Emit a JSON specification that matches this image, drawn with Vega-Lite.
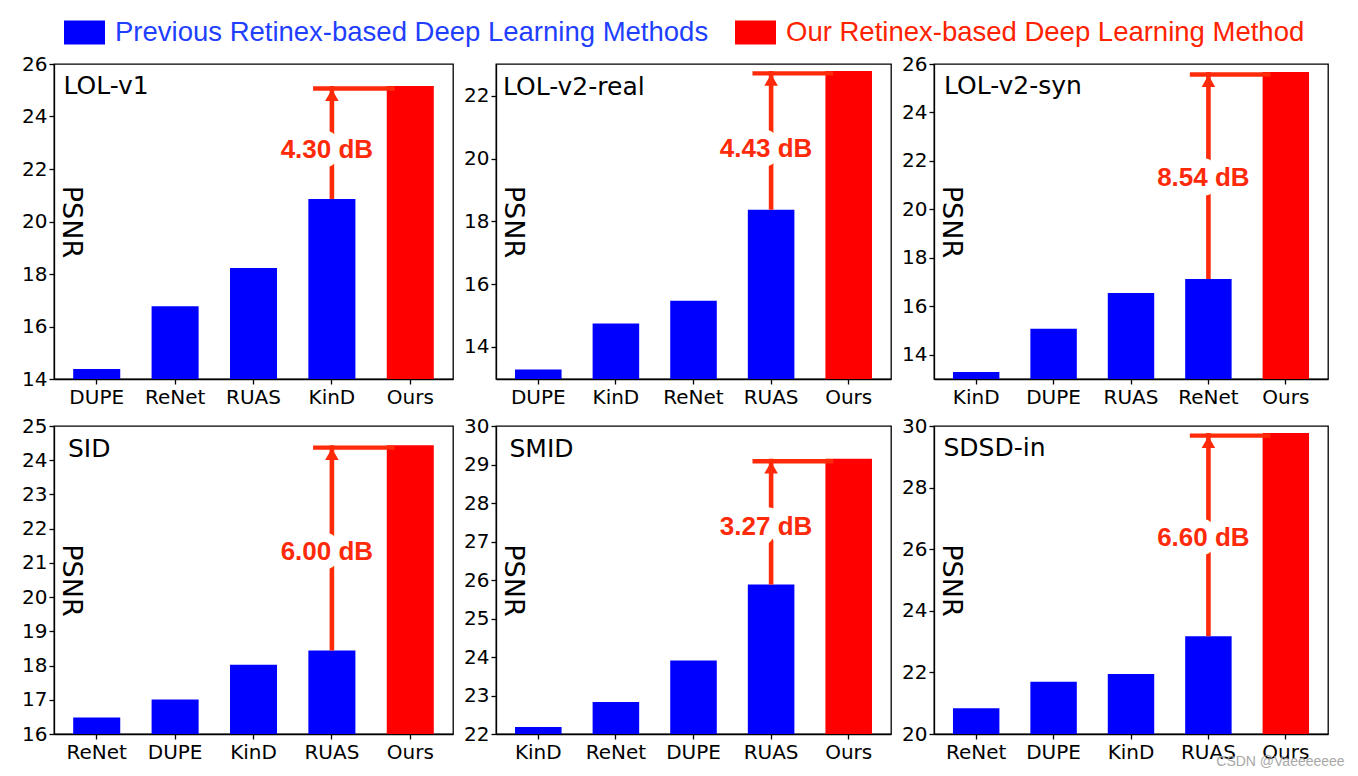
{
  "$schema": "https://vega.github.io/schema/vega-lite/v6.json",
  "background": "white",
  "padding": {"left": 20, "top": 12, "right": 5, "bottom": 5},
  "columns": 3,
  "spacing": {"column": 43, "row": 47},
  "bounds": "flush",
  "title": {"text": "CSDN @Vaeeeeeee", "orient": "bottom", "anchor": "end", "frame": "bounds", "font": "Liberation Sans", "fontSize": 14, "fontWeight": "normal", "color": "#a8a8a8", "offset": -8, "dx": 16, "baseline": "top", "dy": 0},
  "config": {
    "view": {"stroke": "black", "strokeWidth": 1.3},
    "axis": {"labelFont": "DejaVu Sans", "labelFontSize": 20, "labelColor": "black", "tickColor": "black", "tickSize": 5, "tickWidth": 1.3, "domainColor": "black", "domainWidth": 1.3, "grid": false, "titleFont": "DejaVu Sans", "titleFontSize": 27, "titleFontWeight": "normal", "titleColor": "black", "labelPadding": 2, "labelOverlap": false},
    "axisX": {"labelAngle": 0, "labelPadding": 3, "title": null},
    "axisY": {"titleAngle": 90, "titleX": 8, "titleAlign": "center", "titleBaseline": "alphabetic", "labelOverlap": false},
    "title": {"anchor": "start", "frame": "group", "orient": "top", "offset": 0, "baseline": "alphabetic", "font": "DejaVu Sans", "fontSize": 25, "fontWeight": "normal", "color": "black"}
  },
  "concat": [
    {
      "width": 399, "height": 315,
      "title": {"text": "LOL-v1", "dx": 9.5, "dy": 49},
      "data": {"values": [
        {"method": "DUPE", "psnr": 14.38, "group": "prev"},
        {"method": "ReNet", "psnr": 16.77, "group": "prev"},
        {"method": "RUAS", "psnr": 18.23, "group": "prev"},
        {"method": "KinD", "psnr": 20.86, "group": "prev"},
        {"method": "Ours", "psnr": 25.16, "group": "ours"}
      ]},
      "layer": [
        {"mark": {"type": "bar", "clip": true},
         "encoding": {
           "x": {"field": "method", "type": "nominal", "sort": null, "scale": {"domain": ["DUPE", "ReNet", "RUAS", "KinD", "Ours"], "paddingInner": 0.4, "paddingOuter": 0.245}},
           "y": {"field": "psnr", "type": "quantitative", "scale": {"domain": [14, 26], "nice": false, "zero": false}, "axis": {"values": [14, 16, 18, 20, 22, 24, 26], "labelOverlap": false, "title": "PSNR", "titleY": 157.5}},
           "color": {"field": "group", "type": "nominal", "scale": {"domain": ["prev", "ours"], "range": ["#0000ff", "#ff0000"]},
             "legend": {"orient": "none", "legendX": 10, "legendY": -52, "direction": "horizontal", "title": null,
               "symbolType": "M-1,-0.585H1V0.585H-1Z", "symbolSize": 1681, "symbolStrokeWidth": 0,
               "labelFont": "Liberation Sans", "labelFontSize": 27.5, "labelOffset": 10, "labelLimit": 1000,
               "columnPadding": 26, "padding": 0,
               "labelColor": {"expr": "datum.value == 'prev' ? '#1f3fff' : '#ff2200'"},
               "labelExpr": "datum.value == 'prev' ? 'Previous Retinex-based Deep Learning Methods' : 'Our Retinex-based Deep Learning Method'"}}
         }},
        {"data": {"values": [{"from": "KinD", "to": "Ours", "base": 20.86, "top": 25.16, "labelY": 22.80, "label": "4.30 dB"}]},
         "layer": [
           {"mark": {"type": "rule", "color": "#ff2a0a", "strokeWidth": 4.4, "yOffset": 2.5},
            "encoding": {"x": {"field": "from", "type": "nominal", "bandPosition": 0.1}, "x2": {"field": "to", "bandPosition": 0.17}, "y": {"field": "top", "type": "quantitative"}}},
           {"mark": {"type": "rule", "color": "#ff2a0a", "strokeWidth": 4.6},
            "encoding": {"x": {"field": "from", "type": "nominal"}, "y": {"field": "base", "type": "quantitative"}, "y2": {"field": "top"}}},
           {"mark": {"type": "point", "shape": "triangle-up", "filled": true, "size": 185, "color": "#ff2a0a", "opacity": 1, "yOffset": 9},
            "encoding": {"x": {"field": "from", "type": "nominal"}, "y": {"field": "top", "type": "quantitative"}}},
           {"mark": {"type": "text", "font": "Liberation Sans", "fontWeight": "bold", "fontSize": 26, "fill": "white", "stroke": "white", "strokeWidth": 19, "strokeJoin": "round", "baseline": "middle", "dx": -5, "dy": 1.5},
            "encoding": {"x": {"field": "from", "type": "nominal"}, "y": {"field": "labelY", "type": "quantitative"}, "text": {"field": "label"}}},
           {"mark": {"type": "text", "font": "Liberation Sans", "fontWeight": "bold", "fontSize": 26, "fill": "#ff2a0a", "baseline": "middle", "dx": -5, "dy": 1.5},
            "encoding": {"x": {"field": "from", "type": "nominal"}, "y": {"field": "labelY", "type": "quantitative"}, "text": {"field": "label"}}}
         ]}
      ]
    },
    {
      "width": 395, "height": 315,
      "title": {"text": "LOL-v2-real", "dx": 7, "dy": 40},
      "data": {"values": [
        {"method": "DUPE", "psnr": 13.27, "group": "prev"},
        {"method": "KinD", "psnr": 14.74, "group": "prev"},
        {"method": "ReNet", "psnr": 15.47, "group": "prev"},
        {"method": "RUAS", "psnr": 18.37, "group": "prev"},
        {"method": "Ours", "psnr": 22.80, "group": "ours"}
      ]},
      "layer": [
        {"mark": {"type": "bar", "clip": true},
         "encoding": {
           "x": {"field": "method", "type": "nominal", "sort": null, "scale": {"domain": ["DUPE", "KinD", "ReNet", "RUAS", "Ours"], "paddingInner": 0.4, "paddingOuter": 0.245}},
           "y": {"field": "psnr", "type": "quantitative", "scale": {"domain": [12.97, 23.02], "nice": false, "zero": false}, "axis": {"values": [14, 16, 18, 20, 22], "labelOverlap": false, "title": "PSNR", "titleY": 157.5}},
           "color": {"field": "group", "type": "nominal", "scale": {"domain": ["prev", "ours"], "range": ["#0000ff", "#ff0000"]}, "legend": null}
         }},
        {"data": {"values": [{"from": "RUAS", "to": "Ours", "base": 18.37, "top": 22.80, "labelY": 20.36, "label": "4.43 dB"}]},
         "layer": [
           {"mark": {"type": "rule", "color": "#ff2a0a", "strokeWidth": 4.4, "yOffset": 2.5},
            "encoding": {"x": {"field": "from", "type": "nominal", "bandPosition": 0.1}, "x2": {"field": "to", "bandPosition": 0.17}, "y": {"field": "top", "type": "quantitative"}}},
           {"mark": {"type": "rule", "color": "#ff2a0a", "strokeWidth": 4.6},
            "encoding": {"x": {"field": "from", "type": "nominal"}, "y": {"field": "base", "type": "quantitative"}, "y2": {"field": "top"}}},
           {"mark": {"type": "point", "shape": "triangle-up", "filled": true, "size": 185, "color": "#ff2a0a", "opacity": 1, "yOffset": 9},
            "encoding": {"x": {"field": "from", "type": "nominal"}, "y": {"field": "top", "type": "quantitative"}}},
           {"mark": {"type": "text", "font": "Liberation Sans", "fontWeight": "bold", "fontSize": 26, "fill": "white", "stroke": "white", "strokeWidth": 19, "strokeJoin": "round", "baseline": "middle", "dx": -5, "dy": 1.5},
            "encoding": {"x": {"field": "from", "type": "nominal"}, "y": {"field": "labelY", "type": "quantitative"}, "text": {"field": "label"}}},
           {"mark": {"type": "text", "font": "Liberation Sans", "fontWeight": "bold", "fontSize": 26, "fill": "#ff2a0a", "baseline": "middle", "dx": -5, "dy": 1.5},
            "encoding": {"x": {"field": "from", "type": "nominal"}, "y": {"field": "labelY", "type": "quantitative"}, "text": {"field": "label"}}}
         ]}
      ]
    },
    {
      "width": 394, "height": 315,
      "title": {"text": "LOL-v2-syn", "dx": 10, "dy": 49},
      "data": {"values": [
        {"method": "KinD", "psnr": 13.29, "group": "prev"},
        {"method": "DUPE", "psnr": 15.07, "group": "prev"},
        {"method": "RUAS", "psnr": 16.55, "group": "prev"},
        {"method": "ReNet", "psnr": 17.13, "group": "prev"},
        {"method": "Ours", "psnr": 25.67, "group": "ours"}
      ]},
      "layer": [
        {"mark": {"type": "bar", "clip": true},
         "encoding": {
           "x": {"field": "method", "type": "nominal", "sort": null, "scale": {"domain": ["KinD", "DUPE", "RUAS", "ReNet", "Ours"], "paddingInner": 0.4, "paddingOuter": 0.245}},
           "y": {"field": "psnr", "type": "quantitative", "scale": {"domain": [13, 26], "nice": false, "zero": false}, "axis": {"values": [14, 16, 18, 20, 22, 24, 26], "labelOverlap": false, "title": "PSNR", "titleY": 157.5}},
           "color": {"field": "group", "type": "nominal", "scale": {"domain": ["prev", "ours"], "range": ["#0000ff", "#ff0000"]}, "legend": null}
         }},
        {"data": {"values": [{"from": "ReNet", "to": "Ours", "base": 17.13, "top": 25.67, "labelY": 21.34, "label": "8.54 dB"}]},
         "layer": [
           {"mark": {"type": "rule", "color": "#ff2a0a", "strokeWidth": 4.4, "yOffset": 2.5},
            "encoding": {"x": {"field": "from", "type": "nominal", "bandPosition": 0.1}, "x2": {"field": "to", "bandPosition": 0.17}, "y": {"field": "top", "type": "quantitative"}}},
           {"mark": {"type": "rule", "color": "#ff2a0a", "strokeWidth": 4.6},
            "encoding": {"x": {"field": "from", "type": "nominal"}, "y": {"field": "base", "type": "quantitative"}, "y2": {"field": "top"}}},
           {"mark": {"type": "point", "shape": "triangle-up", "filled": true, "size": 185, "color": "#ff2a0a", "opacity": 1, "yOffset": 9},
            "encoding": {"x": {"field": "from", "type": "nominal"}, "y": {"field": "top", "type": "quantitative"}}},
           {"mark": {"type": "text", "font": "Liberation Sans", "fontWeight": "bold", "fontSize": 26, "fill": "white", "stroke": "white", "strokeWidth": 19, "strokeJoin": "round", "baseline": "middle", "dx": -5, "dy": 1.5},
            "encoding": {"x": {"field": "from", "type": "nominal"}, "y": {"field": "labelY", "type": "quantitative"}, "text": {"field": "label"}}},
           {"mark": {"type": "text", "font": "Liberation Sans", "fontWeight": "bold", "fontSize": 26, "fill": "#ff2a0a", "baseline": "middle", "dx": -5, "dy": 1.5},
            "encoding": {"x": {"field": "from", "type": "nominal"}, "y": {"field": "labelY", "type": "quantitative"}, "text": {"field": "label"}}}
         ]}
      ]
    },
    {
      "width": 399, "height": 308,
      "title": {"text": "SID", "dx": 14, "dy": 50},
      "data": {"values": [
        {"method": "ReNet", "psnr": 16.48, "group": "prev"},
        {"method": "DUPE", "psnr": 17.01, "group": "prev"},
        {"method": "KinD", "psnr": 18.02, "group": "prev"},
        {"method": "RUAS", "psnr": 18.44, "group": "prev"},
        {"method": "Ours", "psnr": 24.44, "group": "ours"}
      ]},
      "layer": [
        {"mark": {"type": "bar", "clip": true},
         "encoding": {
           "x": {"field": "method", "type": "nominal", "sort": null, "scale": {"domain": ["ReNet", "DUPE", "KinD", "RUAS", "Ours"], "paddingInner": 0.4, "paddingOuter": 0.245}},
           "y": {"field": "psnr", "type": "quantitative", "scale": {"domain": [16, 25], "nice": false, "zero": false}, "axis": {"values": [16, 17, 18, 19, 20, 21, 22, 23, 24, 25], "labelOverlap": false, "tickCount": 10, "title": "PSNR", "titleY": 154}},
           "color": {"field": "group", "type": "nominal", "scale": {"domain": ["prev", "ours"], "range": ["#0000ff", "#ff0000"]}, "legend": null}
         }},
        {"data": {"values": [{"from": "RUAS", "to": "Ours", "base": 18.44, "top": 24.44, "labelY": 21.37, "label": "6.00 dB"}]},
         "layer": [
           {"mark": {"type": "rule", "color": "#ff2a0a", "strokeWidth": 4.4, "yOffset": 2.5},
            "encoding": {"x": {"field": "from", "type": "nominal", "bandPosition": 0.1}, "x2": {"field": "to", "bandPosition": 0.17}, "y": {"field": "top", "type": "quantitative"}}},
           {"mark": {"type": "rule", "color": "#ff2a0a", "strokeWidth": 4.6},
            "encoding": {"x": {"field": "from", "type": "nominal"}, "y": {"field": "base", "type": "quantitative"}, "y2": {"field": "top"}}},
           {"mark": {"type": "point", "shape": "triangle-up", "filled": true, "size": 185, "color": "#ff2a0a", "opacity": 1, "yOffset": 9},
            "encoding": {"x": {"field": "from", "type": "nominal"}, "y": {"field": "top", "type": "quantitative"}}},
           {"mark": {"type": "text", "font": "Liberation Sans", "fontWeight": "bold", "fontSize": 26, "fill": "white", "stroke": "white", "strokeWidth": 19, "strokeJoin": "round", "baseline": "middle", "dx": -5, "dy": 1.5},
            "encoding": {"x": {"field": "from", "type": "nominal"}, "y": {"field": "labelY", "type": "quantitative"}, "text": {"field": "label"}}},
           {"mark": {"type": "text", "font": "Liberation Sans", "fontWeight": "bold", "fontSize": 26, "fill": "#ff2a0a", "baseline": "middle", "dx": -5, "dy": 1.5},
            "encoding": {"x": {"field": "from", "type": "nominal"}, "y": {"field": "labelY", "type": "quantitative"}, "text": {"field": "label"}}}
         ]}
      ]
    },
    {
      "width": 395, "height": 308,
      "title": {"text": "SMID", "dx": 13.5, "dy": 49.5},
      "data": {"values": [
        {"method": "KinD", "psnr": 22.18, "group": "prev"},
        {"method": "ReNet", "psnr": 22.83, "group": "prev"},
        {"method": "DUPE", "psnr": 23.91, "group": "prev"},
        {"method": "RUAS", "psnr": 25.88, "group": "prev"},
        {"method": "Ours", "psnr": 29.15, "group": "ours"}
      ]},
      "layer": [
        {"mark": {"type": "bar", "clip": true},
         "encoding": {
           "x": {"field": "method", "type": "nominal", "sort": null, "scale": {"domain": ["KinD", "ReNet", "DUPE", "RUAS", "Ours"], "paddingInner": 0.4, "paddingOuter": 0.245}},
           "y": {"field": "psnr", "type": "quantitative", "scale": {"domain": [22, 30], "nice": false, "zero": false}, "axis": {"values": [22, 23, 24, 25, 26, 27, 28, 29, 30], "labelOverlap": false, "tickCount": 9, "title": "PSNR", "titleY": 154}},
           "color": {"field": "group", "type": "nominal", "scale": {"domain": ["prev", "ours"], "range": ["#0000ff", "#ff0000"]}, "legend": null}
         }},
        {"data": {"values": [{"from": "RUAS", "to": "Ours", "base": 25.88, "top": 29.15, "labelY": 27.41, "label": "3.27 dB"}]},
         "layer": [
           {"mark": {"type": "rule", "color": "#ff2a0a", "strokeWidth": 4.4, "yOffset": 2.5},
            "encoding": {"x": {"field": "from", "type": "nominal", "bandPosition": 0.1}, "x2": {"field": "to", "bandPosition": 0.17}, "y": {"field": "top", "type": "quantitative"}}},
           {"mark": {"type": "rule", "color": "#ff2a0a", "strokeWidth": 4.6},
            "encoding": {"x": {"field": "from", "type": "nominal"}, "y": {"field": "base", "type": "quantitative"}, "y2": {"field": "top"}}},
           {"mark": {"type": "point", "shape": "triangle-up", "filled": true, "size": 185, "color": "#ff2a0a", "opacity": 1, "yOffset": 9},
            "encoding": {"x": {"field": "from", "type": "nominal"}, "y": {"field": "top", "type": "quantitative"}}},
           {"mark": {"type": "text", "font": "Liberation Sans", "fontWeight": "bold", "fontSize": 26, "fill": "white", "stroke": "white", "strokeWidth": 19, "strokeJoin": "round", "baseline": "middle", "dx": -5, "dy": 1.5},
            "encoding": {"x": {"field": "from", "type": "nominal"}, "y": {"field": "labelY", "type": "quantitative"}, "text": {"field": "label"}}},
           {"mark": {"type": "text", "font": "Liberation Sans", "fontWeight": "bold", "fontSize": 26, "fill": "#ff2a0a", "baseline": "middle", "dx": -5, "dy": 1.5},
            "encoding": {"x": {"field": "from", "type": "nominal"}, "y": {"field": "labelY", "type": "quantitative"}, "text": {"field": "label"}}}
         ]}
      ]
    },
    {
      "width": 394, "height": 308,
      "title": {"text": "SDSD-in", "dx": 9.5, "dy": 49},
      "data": {"values": [
        {"method": "ReNet", "psnr": 20.84, "group": "prev"},
        {"method": "DUPE", "psnr": 21.70, "group": "prev"},
        {"method": "KinD", "psnr": 21.95, "group": "prev"},
        {"method": "RUAS", "psnr": 23.17, "group": "prev"},
        {"method": "Ours", "psnr": 29.77, "group": "ours"}
      ]},
      "layer": [
        {"mark": {"type": "bar", "clip": true},
         "encoding": {
           "x": {"field": "method", "type": "nominal", "sort": null, "scale": {"domain": ["ReNet", "DUPE", "KinD", "RUAS", "Ours"], "paddingInner": 0.4, "paddingOuter": 0.245}},
           "y": {"field": "psnr", "type": "quantitative", "scale": {"domain": [20, 30], "nice": false, "zero": false}, "axis": {"values": [20, 22, 24, 26, 28, 30], "labelOverlap": false, "title": "PSNR", "titleY": 154}},
           "color": {"field": "group", "type": "nominal", "scale": {"domain": ["prev", "ours"], "range": ["#0000ff", "#ff0000"]}, "legend": null}
         }},
        {"data": {"values": [{"from": "RUAS", "to": "Ours", "base": 23.17, "top": 29.77, "labelY": 26.40, "label": "6.60 dB"}]},
         "layer": [
           {"mark": {"type": "rule", "color": "#ff2a0a", "strokeWidth": 4.4, "yOffset": 2.5},
            "encoding": {"x": {"field": "from", "type": "nominal", "bandPosition": 0.1}, "x2": {"field": "to", "bandPosition": 0.17}, "y": {"field": "top", "type": "quantitative"}}},
           {"mark": {"type": "rule", "color": "#ff2a0a", "strokeWidth": 4.6},
            "encoding": {"x": {"field": "from", "type": "nominal"}, "y": {"field": "base", "type": "quantitative"}, "y2": {"field": "top"}}},
           {"mark": {"type": "point", "shape": "triangle-up", "filled": true, "size": 185, "color": "#ff2a0a", "opacity": 1, "yOffset": 9},
            "encoding": {"x": {"field": "from", "type": "nominal"}, "y": {"field": "top", "type": "quantitative"}}},
           {"mark": {"type": "text", "font": "Liberation Sans", "fontWeight": "bold", "fontSize": 26, "fill": "white", "stroke": "white", "strokeWidth": 19, "strokeJoin": "round", "baseline": "middle", "dx": -5, "dy": 1.5},
            "encoding": {"x": {"field": "from", "type": "nominal"}, "y": {"field": "labelY", "type": "quantitative"}, "text": {"field": "label"}}},
           {"mark": {"type": "text", "font": "Liberation Sans", "fontWeight": "bold", "fontSize": 26, "fill": "#ff2a0a", "baseline": "middle", "dx": -5, "dy": 1.5},
            "encoding": {"x": {"field": "from", "type": "nominal"}, "y": {"field": "labelY", "type": "quantitative"}, "text": {"field": "label"}}}
         ]}
      ]
    }
  ]
}
